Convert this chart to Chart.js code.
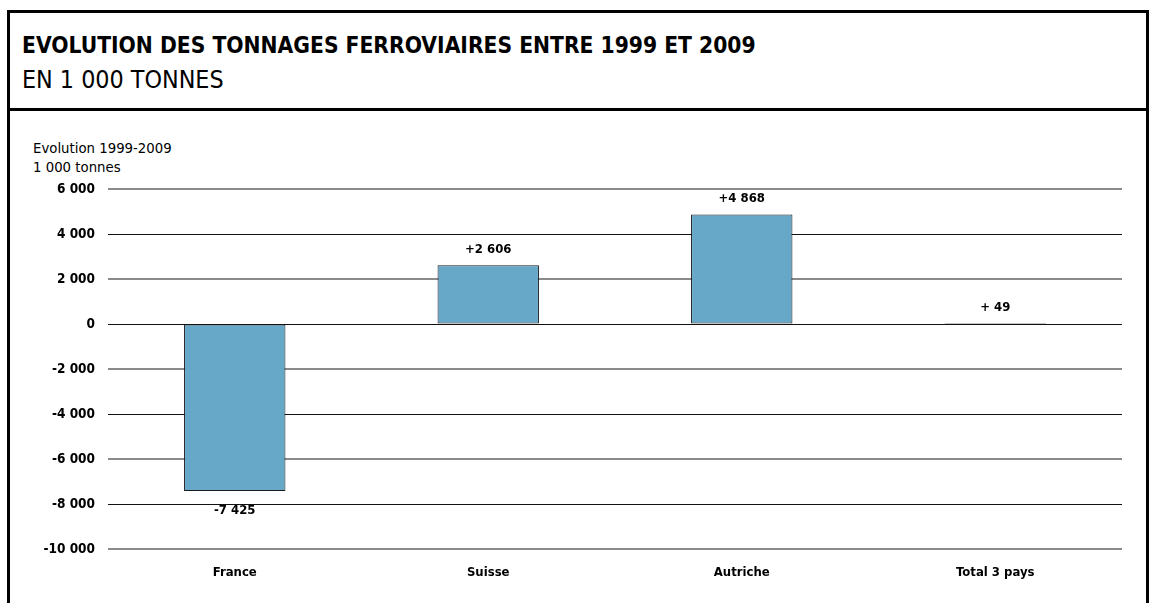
<!DOCTYPE html>
<html>
<head>
<meta charset="utf-8">
<script src="https://cdn.jsdelivr.net/npm/chart.js@4/dist/chart.umd.min.js"></script>
<style>
  html, body { margin: 0; padding: 0; background: #fff; }
  body { width: 1151px; height: 603px; position: relative; overflow: hidden;
         font-family: "DejaVu Sans Condensed", "DejaVu Sans", sans-serif; }
  .frame { position: absolute; left: 7px; top: 10px; width: 1136px; height: 640px;
           border: 3px solid #000; box-sizing: content-box; }
  .sep { position: absolute; left: 7px; top: 108px; width: 1142px; height: 3px; background: #000; }
  .title { position: absolute; left: 22px; top: 32px; font-size: 22.6px; font-weight: bold; color: #000; white-space: nowrap; }
  .subtitle { position: absolute; left: 22px; top: 65px; font-size: 24.8px; color: #000; white-space: nowrap; }
  .unit { position: absolute; left: 33px; font-size: 13.3px; color: #000; font-family: "DejaVu Sans", sans-serif; }
  #chart { position: absolute; left: 0; top: 0; }
</style>
</head>
<body>
<div class="frame"></div>
<div class="sep"></div>
<div class="title">EVOLUTION DES TONNAGES FERROVIAIRES ENTRE 1999 ET 2009</div>
<div class="subtitle">EN 1 000 TONNES</div>
<div class="unit" style="top:141px">Evolution 1999-2009</div>
<div class="unit" style="top:160px">1 000 tonnes</div>
<canvas id="chart" width="1151" height="603"></canvas>
<script>
// --- données ---
const pays = ['France', 'Suisse', 'Autriche', 'Total 3 pays'];
const evolution = [-7425, 2606, 4868, 49];
const etiquettes = ['-7 425', '+2 606', '+4 868', '+ 49'];
const ticksY = ['-10 000', '-8 000', '-6 000', '-4 000', '-2 000', '0', '2 000', '4 000', '6 000'];

const BLEU = 'rgb(103, 168, 201)';
const POLICE = '"DejaVu Sans Condensed", "DejaVu Sans", sans-serif';

// étiquettes de valeur au-dessus / en dessous des barres
const etiquettesPlugin = {
  id: 'etiquettes',
  afterDatasetsDraw(chart) {
    const ctx = chart.ctx;
    const meta = chart.getDatasetMeta(0);
    ctx.save();
    ctx.font = 'bold 13px ' + POLICE;
    ctx.fillStyle = '#000';
    ctx.textAlign = 'center';
    meta.data.forEach((bar, i) => {
      if (evolution[i] >= 0) {
        ctx.textBaseline = 'bottom';
        ctx.fillText(etiquettes[i], bar.x, Math.min(bar.y, bar.base) - 9);
      } else {
        ctx.textBaseline = 'top';
        ctx.fillText(etiquettes[i], bar.x, Math.max(bar.y, bar.base) + 13);
      }
    });
    ctx.restore();
  }
};

new Chart(document.getElementById('chart'), {
  type: 'bar',
  data: {
    labels: pays,
    datasets: [{
      data: evolution,
      backgroundColor: BLEU,
      borderColor: '#1a1a1a',
      borderWidth: 1,
      borderSkipped: false,
      barPercentage: 0.4,
      categoryPercentage: 1
    }]
  },
  options: {
    animation: false,
    responsive: false,
    layout: { padding: { left: 0, top: 189, right: 29, bottom: 0 } },
    plugins: { legend: { display: false }, tooltip: { enabled: false } },
    scales: {
      x: {
        grid: { display: false, drawTicks: false },
        border: { display: false },
        ticks: { color: '#000', padding: 16, font: { family: POLICE, size: 13, weight: 'bold' } },
        afterFit(scale) { scale.height = 54; }
      },
      y: {
        min: -10000,
        max: 6000,
        border: { display: false },
        grid: {
          drawTicks: false,
          color: c => (c.index % 2 === 0 ? '#8a8a8a' : '#111'),
          lineWidth: c => (c.index % 2 === 0 ? 2 : 1)
        },
        ticks: {
          stepSize: 2000,
          padding: 13,
          color: '#000',
          font: { family: POLICE, size: 13.5, weight: 'bold' },
          callback: (v, i) => ticksY[i]
        },
        afterFit(scale) { scale.width = 108; }
      }
    }
  },
  plugins: [etiquettesPlugin]
});
</script>
</body>
</html>
